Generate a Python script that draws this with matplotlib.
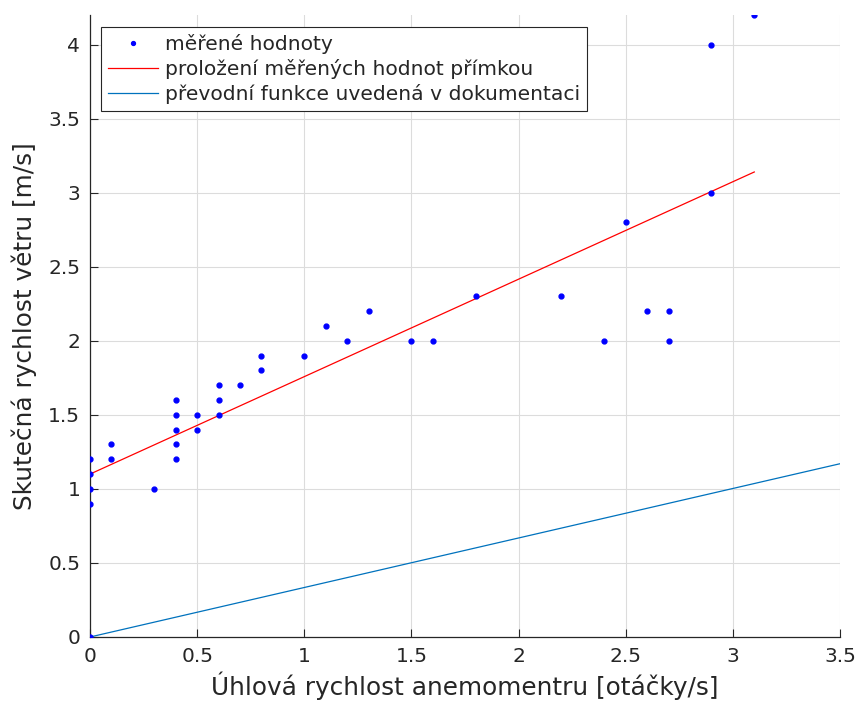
import matplotlib
matplotlib.use("Agg")
import matplotlib.pyplot as plt
from matplotlib.ticker import FuncFormatter

# measured values (angular speed [rev/s], real wind speed [m/s])
meas_x = [0, 0, 0, 0, 0, 0.1, 0.1, 0.3, 0.4, 0.4, 0.4, 0.4, 0.4, 0.5, 0.5,
          0.6, 0.6, 0.6, 0.7, 0.8, 0.8, 1.0, 1.1, 1.2, 1.3, 1.5, 1.6, 1.8,
          2.2, 2.4, 2.5, 2.6, 2.7, 2.7, 2.9, 2.9, 3.1]
meas_y = [1.2, 1.1, 1.0, 0.9, 0.0, 1.3, 1.2, 1.0, 1.6, 1.5, 1.4, 1.3, 1.2, 1.5, 1.4,
          1.7, 1.6, 1.5, 1.7, 1.9, 1.8, 1.9, 2.1, 2.0, 2.2, 2.0, 2.0, 2.3,
          2.3, 2.0, 2.8, 2.2, 2.2, 2.0, 3.0, 4.0, 4.2]

# fitted line
fit_x = [0, 3.1]
fit_y = [1.10, 3.14]

# transfer function from the documentation
doc_x = [0, 3.5]
doc_y = [0, 1.17]

lbl_meas = "měřené hodnoty"
lbl_fit = "proložení měřených hodnot přímkou"
lbl_doc = "převodní funkce uvedená v dokumentaci"

plt.rcParams['font.family'] = ['DejaVu Sans']

fig = plt.figure(figsize=(8.58, 7.02), dpi=100)
ax = fig.add_axes([90 / 858, 65 / 702, 750 / 858, 622 / 702])

ax.plot(meas_x, meas_y, '.', color='blue', markersize=7, label=lbl_meas, zorder=3)
ax.plot(fit_x, fit_y, '-', color='red', linewidth=0.9, label=lbl_fit)
ax.plot(doc_x, doc_y, '-', color='#0072BD', linewidth=0.9, label=lbl_doc)

ax.set_xlim(0, 3.5)
ax.set_ylim(0, 4.2)
ax.set_xticks([0, 0.5, 1, 1.5, 2, 2.5, 3, 3.5])
ax.set_yticks([0, 0.5, 1, 1.5, 2, 2.5, 3, 3.5, 4])
ax.xaxis.set_major_formatter(FuncFormatter(lambda v, p: f"{v:g}"))
ax.yaxis.set_major_formatter(FuncFormatter(lambda v, p: f"{v:g}"))

ax.grid(True, color='#dcdcdc', linewidth=0.8)
ax.set_axisbelow(True)
for s in ['top', 'right']:
    ax.spines[s].set_visible(False)
for s in ['left', 'bottom']:
    ax.spines[s].set_color('#262626')
    ax.spines[s].set_linewidth(0.9)
ax.tick_params(direction='in', length=6, width=0.8, colors='#262626',
               labelsize=14.5, pad=7)

ax.set_xlabel("Úhlová rychlost anemomentru [otáčky/s]", fontsize=17.8,
              color='#262626', labelpad=4.5)
ax.set_ylabel("Skutečná rychlost větru [m/s]", fontsize=17.8,
              color='#262626', labelpad=8)

leg = ax.legend(loc='upper left', bbox_to_anchor=(0.0147, 0.9807), fontsize=14.6,
                fancybox=False, framealpha=1, edgecolor='#262626',
                handlelength=2.45, handletextpad=0.35, borderpad=0.35,
                labelspacing=0.25, borderaxespad=0, markerscale=0.8)
leg.get_frame().set_linewidth(0.8)
for t in leg.get_texts():
    t.set_color('#262626')

fig.savefig("out.png", dpi=100)
